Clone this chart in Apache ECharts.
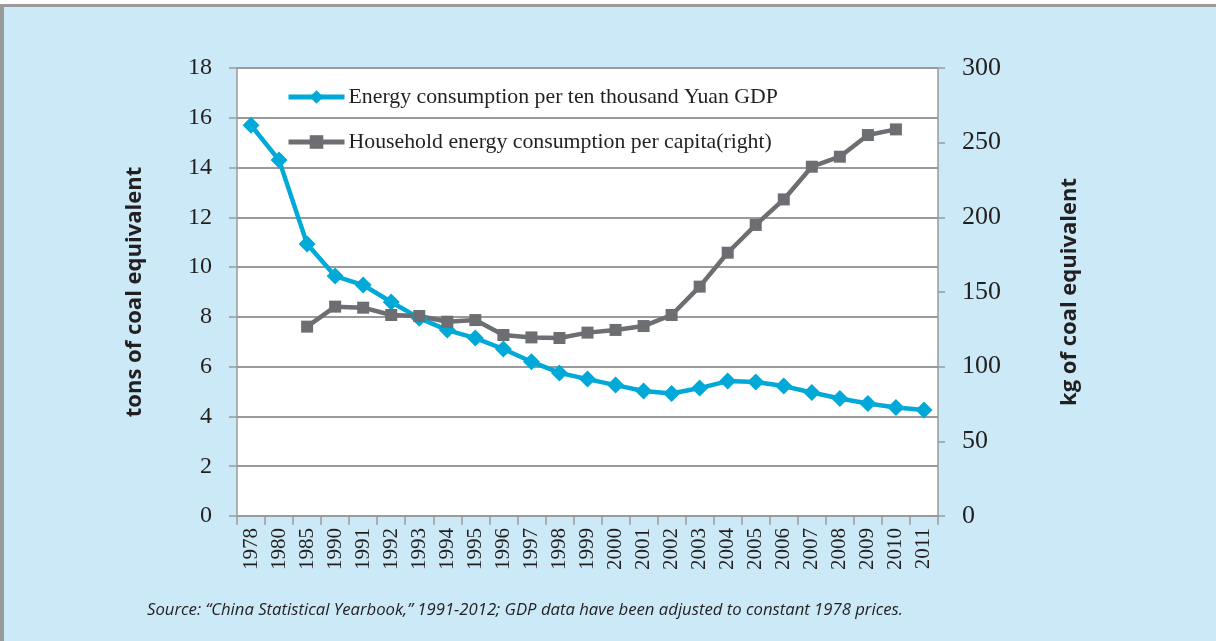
<!DOCTYPE html>
<html>
<head>
<meta charset="utf-8">
<script src="https://cdn.jsdelivr.net/npm/echarts@6/dist/echarts.min.js"></script>
<style>
html,body{margin:0;padding:0;background:#ffffff;}
#frame{position:absolute;left:0;top:4px;width:1216px;height:637px;background:#cbe9f6;border-top:3px solid #9a9a9a;border-left:4px solid #9a9a9a;box-sizing:border-box;}
#chart{position:absolute;left:0;top:0;width:1216px;height:641px;}
</style>
</head>
<body>
<div id="frame"></div>
<div id="chart"></div>
<script>
const years = ['1978','1980','1985','1990','1991','1992','1993','1994','1995','1996','1997','1998','1999','2000','2001','2002','2003','2004','2005','2006','2007','2008','2009','2010','2011'];
const energyPerGDP = [15.7,14.3,10.93,9.64,9.28,8.6,7.95,7.47,7.15,6.71,6.2,5.75,5.5,5.26,5.02,4.92,5.14,5.42,5.38,5.22,4.96,4.72,4.52,4.36,4.26];
const householdPerCapita = [null,null,126.8,140.2,139.5,134.6,133.9,130.1,131.2,121.2,119.6,119.2,122.8,124.6,127.2,134.6,153.6,176.3,194.9,212,233.9,240.6,255.1,258.9,null];
const leftTicks = {min:0,max:18,interval:2};
const rightTicks = {min:0,max:300,interval:50};
const seriesNames = ['Energy consumption per ten thousand Yuan GDP','Household energy consumption per capita(right)'];
const leftName = 'tons of coal equivalent';
const rightName = 'kg of coal equivalent';
const sourceText = 'Source: \u201cChina Statistical Yearbook,\u201d 1991-2012; GDP data have been adjusted to constant 1978 prices.';

const chart = echarts.init(document.getElementById('chart'));
const serif = '"Liberation Serif","DejaVu Serif",serif';
const sans = '"Open Sans","Noto Sans",sans-serif';
const grey = '#9a9a9a';
const textCol = '#231f20';
chart.setOption({
  animation:false,
  backgroundColor:'transparent',
  grid:{left:237,right:278,top:68,bottom:125,show:true,backgroundColor:'#ffffff',borderWidth:0},
  legend:{
    orient:'vertical',left:281,top:81,itemGap:23,itemWidth:56,itemHeight:17,
    lineStyle:{width:5},
    textStyle:{fontFamily:serif,fontSize:21.8,color:textCol,padding:[0,0,0,-1]},
    data:seriesNames
  },
  xAxis:{
    type:'category',data:years,boundaryGap:true,
    axisLine:{lineStyle:{color:grey,width:1.5}},
    axisTick:{show:true,interval:0,length:9,lineStyle:{color:grey,width:1.5}},
    axisLabel:{interval:0,rotate:90,fontFamily:serif,fontSize:21,color:textCol,margin:12},
    splitLine:{show:false}
  },
  yAxis:[{
    type:'value',min:leftTicks.min,max:leftTicks.max,interval:leftTicks.interval,position:'left',
    name:leftName,nameLocation:'middle',nameGap:91,nameRotate:90,
    nameTextStyle:{fontFamily:sans,fontWeight:'bold',fontSize:22,color:textCol},
    axisLine:{show:true,lineStyle:{color:grey,width:1.5}},
    axisTick:{show:true,length:8,lineStyle:{color:grey,width:1.5}},
    axisLabel:{fontFamily:serif,fontSize:24,color:textCol,margin:25},
    splitLine:{show:true,lineStyle:{color:grey,width:2}}
  },{
    type:'value',min:rightTicks.min,max:rightTicks.max,interval:rightTicks.interval,position:'right',
    name:rightName,nameLocation:'middle',nameGap:121,nameRotate:90,
    nameTextStyle:{fontFamily:sans,fontWeight:'bold',fontSize:22,color:textCol},
    axisLine:{show:true,lineStyle:{color:grey,width:1.5}},
    axisTick:{show:true,length:7,lineStyle:{color:grey,width:1.5}},
    axisLabel:{fontFamily:serif,fontSize:26,color:textCol,margin:24},
    splitLine:{show:false}
  }],
  series:[{
    name:seriesNames[0],type:'line',yAxisIndex:0,data:energyPerGDP,
    symbol:'diamond',symbolSize:17,
    lineStyle:{color:'#00a9d8',width:4.5},itemStyle:{color:'#00a9d8'}
  },{
    name:seriesNames[1],type:'line',yAxisIndex:1,data:householdPerCapita,
    symbol:'rect',symbolSize:12,connectNulls:false,
    lineStyle:{color:'#6d6e71',width:4.5},itemStyle:{color:'#6d6e71'}
  }],
  graphic:[{
    type:'text',left:147,top:602,
    style:{text:sourceText,fontFamily:sans,fontStyle:'italic',fontSize:16.7,fill:textCol}
  }]
});
</script>
</body>
</html>
